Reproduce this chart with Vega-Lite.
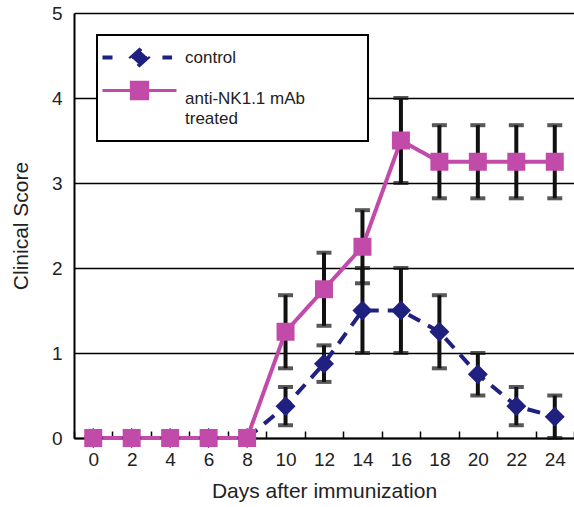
{
  "$schema": "https://vega.github.io/schema/vega-lite/v6.json",
  "autosize": "none",
  "width": 500,
  "height": 425,
  "padding": {"left": 74, "top": 13, "right": 0, "bottom": 69},
  "background": "white",
  "config": {
    "view": {"stroke": null},
    "font": "Liberation Sans",
    "axis": {"labelFont": "Liberation Sans", "titleFont": "Liberation Sans", "labelColor": "#222", "titleColor": "#222", "labelFontSize": 19, "titleFontSize": 21, "titleFontWeight": "normal"}
  },
  "data": {
    "values": [
      {"day": 0, "group": "control", "score": 0, "lo": null, "hi": null},
      {"day": 2, "group": "control", "score": 0, "lo": null, "hi": null},
      {"day": 4, "group": "control", "score": 0, "lo": null, "hi": null},
      {"day": 6, "group": "control", "score": 0, "lo": null, "hi": null},
      {"day": 8, "group": "control", "score": 0, "lo": null, "hi": null},
      {"day": 10, "group": "control", "score": 0.375, "lo": 0.15, "hi": 0.6},
      {"day": 12, "group": "control", "score": 0.875, "lo": 0.66, "hi": 1.09},
      {"day": 14, "group": "control", "score": 1.5, "lo": 1.0, "hi": 2.0},
      {"day": 16, "group": "control", "score": 1.5, "lo": 1.0, "hi": 2.0},
      {"day": 18, "group": "control", "score": 1.25, "lo": 0.82, "hi": 1.68},
      {"day": 20, "group": "control", "score": 0.75, "lo": 0.5, "hi": 1.0},
      {"day": 22, "group": "control", "score": 0.375, "lo": 0.15, "hi": 0.6},
      {"day": 24, "group": "control", "score": 0.25, "lo": 0.0, "hi": 0.5},
      {"day": 0, "group": "anti-NK1.1 mAb", "score": 0, "lo": null, "hi": null},
      {"day": 2, "group": "anti-NK1.1 mAb", "score": 0, "lo": null, "hi": null},
      {"day": 4, "group": "anti-NK1.1 mAb", "score": 0, "lo": null, "hi": null},
      {"day": 6, "group": "anti-NK1.1 mAb", "score": 0, "lo": null, "hi": null},
      {"day": 8, "group": "anti-NK1.1 mAb", "score": 0, "lo": null, "hi": null},
      {"day": 10, "group": "anti-NK1.1 mAb", "score": 1.25, "lo": 0.82, "hi": 1.68},
      {"day": 12, "group": "anti-NK1.1 mAb", "score": 1.75, "lo": 1.32, "hi": 2.18},
      {"day": 14, "group": "anti-NK1.1 mAb", "score": 2.25, "lo": 1.82, "hi": 2.68},
      {"day": 16, "group": "anti-NK1.1 mAb", "score": 3.5, "lo": 3.0, "hi": 4.0},
      {"day": 18, "group": "anti-NK1.1 mAb", "score": 3.25, "lo": 2.82, "hi": 3.68},
      {"day": 20, "group": "anti-NK1.1 mAb", "score": 3.25, "lo": 2.82, "hi": 3.68},
      {"day": 22, "group": "anti-NK1.1 mAb", "score": 3.25, "lo": 2.82, "hi": 3.68},
      {"day": 24, "group": "anti-NK1.1 mAb", "score": 3.25, "lo": 2.82, "hi": 3.68}
    ]
  },
  "encoding": {
    "x": {
      "field": "day", "type": "ordinal",
      "scale": {"paddingInner": 0, "paddingOuter": 0},
      "axis": {"title": "Days after immunization", "labelAngle": 0, "tickBand": "extent", "tickSize": -7, "tickWidth": 1.5, "tickColor": "black", "domainColor": "black", "domainWidth": 2, "labelPadding": 19, "titlePadding": 11, "grid": false}
    },
    "y": {
      "type": "quantitative",
      "scale": {"domain": [0, 5], "nice": false},
      "axis": {"title": "Clinical Score", "values": [0, 1, 2, 3, 4, 5], "ticks": false, "labelPadding": 12, "titlePadding": 20, "grid": true, "gridColor": "black", "gridWidth": 1.5, "gridOpacity": 1, "domainColor": "black", "domainWidth": 2}
    }
  },
  "layer": [
    {
      "transform": [{"filter": "datum.lo != null"}],
      "mark": {"type": "rule", "color": "#111", "strokeWidth": 4},
      "encoding": {"y": {"field": "lo", "type": "quantitative"}, "y2": {"field": "hi"}}
    },
    {
      "transform": [{"filter": "datum.lo != null"}],
      "mark": {"type": "tick", "color": "#111", "size": 15, "thickness": 4},
      "encoding": {"y": {"field": "lo", "type": "quantitative"}}
    },
    {
      "transform": [{"filter": "datum.lo != null"}],
      "mark": {"type": "tick", "color": "#111", "size": 15, "thickness": 4},
      "encoding": {"y": {"field": "hi", "type": "quantitative"}}
    },
    {
      "mark": {"type": "line", "strokeWidth": 4},
      "encoding": {
        "y": {"field": "score", "type": "quantitative"},
        "color": {
          "field": "group", "type": "nominal",
          "scale": {"domain": ["control", "anti-NK1.1 mAb"], "range": ["#1f2080", "#c24aa8"]},
          "legend": {
            "title": ".",
            "titleOrient": "right",
            "titleFontSize": 2,
            "titleColor": "transparent",
            "titlePadding": 48,
            "orient": "none",
            "legendX": 23,
            "legendY": 22,
            "fillColor": "white",
            "strokeColor": "black",
            "padding": 14,
            "labelFont": "Liberation Sans",
            "labelFontSize": 17,
            "labelColor": "#222",
            "labelOffset": 37,
            "labelLimit": 400,
            "labelBaseline": "top",
            "symbolOffset": 20,
            "rowPadding": 3,
            "labelExpr": "datum.value === 'control' ? 'control' : ['anti-NK1.1 mAb', 'treated']",
            "encode": {
              "legend": {"update": {"strokeWidth": {"value": 2}}},
              "symbols": {
                "update": {
                  "shape": {"signal": "datum.value === 'control' ? 'M-1,0H-0.73M-0.22,0L0,-0.2L0.22,0L0,0.2ZM0.62,0H0.88' : 'M-1,0H1M-0.22,-0.22H0.22V0.22H-0.22Z'"},
                  "fill": {"signal": "datum.value === 'control' ? '#1f2080' : '#c24aa8'"},
                  "stroke": {"signal": "datum.value === 'control' ? '#1f2080' : '#c24aa8'"},
                  "strokeWidth": {"signal": "datum.value === 'control' ? 4 : 3"},
                  "strokeDash": {"value": [1, 0]},
                  "size": {"value": 5476}
                }
              },
              "labels": {"update": {"lineHeight": {"value": 20}, "baseline": {"signal": "datum.value === 'control' ? 'middle' : 'top'"}}}
            }
          }
        },
        "strokeDash": {
          "field": "group", "type": "nominal",
          "scale": {"domain": ["control", "anti-NK1.1 mAb"], "range": [[13, 9], [1, 0]]},
          "legend": null
        }
      }
    },
    {
      "transform": [{"filter": "datum.group === 'control'"}],
      "mark": {"type": "point", "shape": "diamond", "filled": true, "opacity": 1, "color": "#1f2080", "size": 400},
      "encoding": {"y": {"field": "score", "type": "quantitative"}}
    },
    {
      "transform": [{"filter": "datum.group === 'anti-NK1.1 mAb'"}],
      "mark": {"type": "point", "shape": "square", "filled": true, "opacity": 1, "color": "#c24aa8", "size": 324},
      "encoding": {"y": {"field": "score", "type": "quantitative"}}
    }
  ]
}
